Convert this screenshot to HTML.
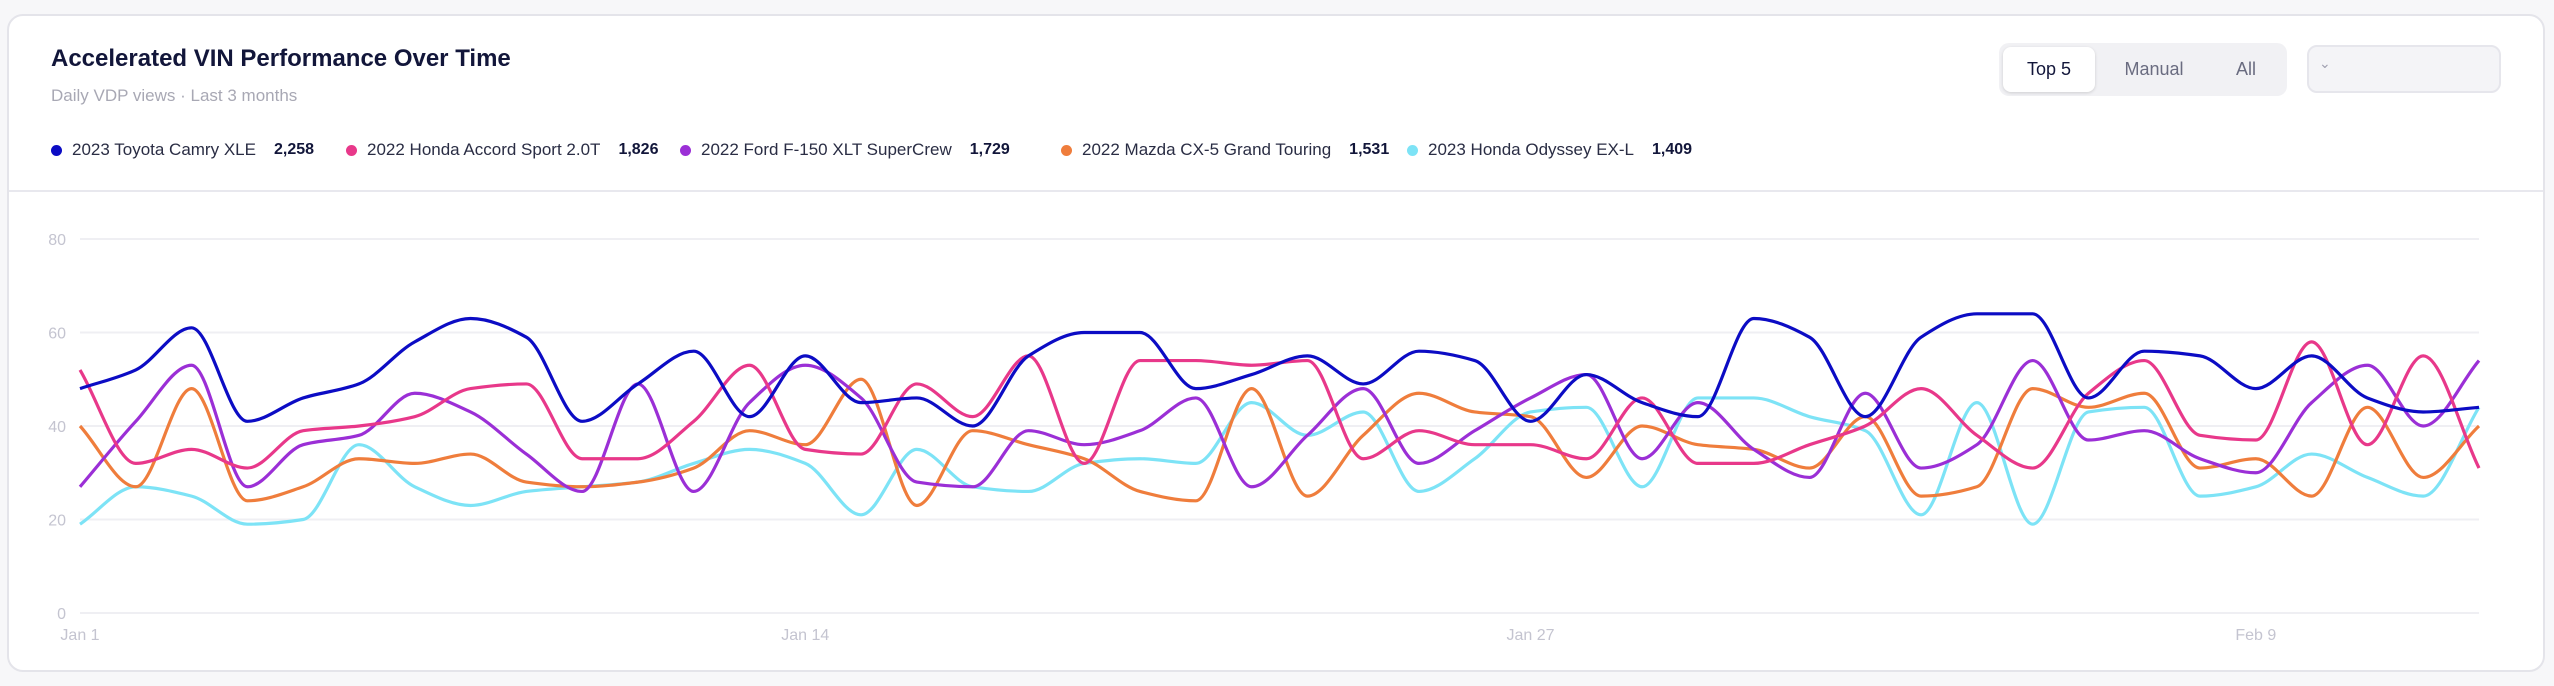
<!DOCTYPE html>
<html><head><meta charset="utf-8"><style>
*{box-sizing:border-box;margin:0;padding:0}
body{width:2554px;height:686px;background:#f7f7f9;font-family:"Liberation Sans",sans-serif;position:relative;overflow:hidden}
.card{position:absolute;left:7px;top:14px;width:2538px;height:658px;background:#fff;border:2px solid #e4e4ea;border-radius:16px}
.title{position:absolute;left:42px;top:29px;font-size:24px;font-weight:bold;color:#12163a}
.sub{position:absolute;left:42px;top:70px;font-size:17px;color:#a8a8b4}
.legend{position:absolute;left:0;top:124px;width:2000px;height:24px;font-size:17px;color:#2a2d44}
.li{position:absolute;top:0;display:flex;align-items:center;white-space:nowrap}
.dot{width:11px;height:11px;border-radius:50%;margin-right:10px}
.li b{margin-left:18px;color:#12163a;font-size:16px}
.sep{position:absolute;left:0;right:0;top:174px;height:2px;background:#e8e8ee}
.tog{position:absolute;left:1990px;top:27px;width:288px;height:53px;background:#f1f1f4;border-radius:10px}
.tb{position:absolute;top:4px;height:45px;line-height:45px;font-size:18px;color:#6a6c80;text-align:center}
.tb.act{background:#fff;border-radius:8px;color:#12163a;box-shadow:0 1px 3px rgba(0,0,0,.15)}
.dd{position:absolute;left:2298px;top:29px;width:194px;height:48px;background:#f4f4f7;border:2px solid #e6e6ec;border-radius:10px;color:#a0a0b0;font-size:14px;padding:8px 0 0 10px}
svg{position:absolute;left:0;top:0}
</style></head><body>
<div class="card">
<div class="title">Accelerated VIN Performance Over Time</div>
<div class="sub">Daily VDP views · Last 3 months</div>
<div class="legend">
<div class="li" style="left:42px"><span class="dot" style="background:#0c0cc4"></span>2023 Toyota Camry XLE<b>2,258</b></div>
<div class="li" style="left:337px"><span class="dot" style="background:#e8388a"></span>2022 Honda Accord Sport 2.0T<b>1,826</b></div>
<div class="li" style="left:671px"><span class="dot" style="background:#9b2fd6"></span>2022 Ford F-150 XLT SuperCrew<b>1,729</b></div>
<div class="li" style="left:1052px"><span class="dot" style="background:#ef7d3c"></span>2022 Mazda CX-5 Grand Touring<b>1,531</b></div>
<div class="li" style="left:1398px"><span class="dot" style="background:#7de3f6"></span>2023 Honda Odyssey EX-L<b>1,409</b></div>
</div>
<div class="sep"></div>
<div class="tog">
<div class="tb act" style="left:4px;width:92px">Top 5</div>
<div class="tb" style="left:100px;width:110px">Manual</div>
<div class="tb" style="left:212px;width:70px">All</div>
</div>
<div class="dd">&#8964;</div>
</div>
<svg id="chart" width="2554" height="686"></svg>
<script>
const categories=[];for(let i=0;i<44;i++){const d=new Date(2024,0,1+i);categories.push(d);}
const yTicks=[0,20,40,60,80];
const xTickIdx=[0,13,26,39];
const xTickLabels=["Jan 1","Jan 14","Jan 27","Feb 9"];
const camry=[48,52,61,41,46,49,58,63,59,41,49,56,42,55,45,46,40,55,60,60,48,51,55,49,56,54,41,51,45,42,63,59,42,59,64,64,46,56,55,48,55,46,43,44];
const accord=[52,32,35,31,39,40,42,48,49,33,33,41,53,35,34,49,42,55,32,54,54,53,54,33,39,36,36,33,46,32,32,36,40,48,38,31,47,54,38,37,58,36,55,31];
const f150=[27,41,53,27,36,38,47,43,34,26,49,26,45,53,46,28,27,39,36,39,46,27,38,48,32,39,46,51,33,45,35,29,47,31,36,54,37,39,33,30,45,53,40,54];
const cx5=[40,27,48,24,27,33,32,34,28,27,28,31,39,36,50,23,39,36,33,26,24,48,25,38,47,43,42,29,40,36,35,31,42,25,27,48,44,47,31,33,25,44,29,40];
const odyssey=[19,27,25,19,20,36,27,23,26,27,28,32,35,32,21,35,27,26,32,33,32,45,38,43,26,33,43,44,27,46,46,42,39,21,45,19,43,44,25,27,34,29,25,44];
const series=[["odyssey",odyssey,"#7de3f6"],["cx5",cx5,"#ef7d3c"],["f150",f150,"#9b2fd6"],["accord",accord,"#e8388a"],["camry",camry,"#0c0cc4"]];
const X0=80,X1=2479,Y0=613,Y80=239;
const xs=i=>X0+(X1-X0)*i/(categories.length-1);
const ys=v=>Y0+(Y80-Y0)*v/80;
const svg=document.getElementById('chart');const NS='http://www.w3.org/2000/svg';
function mk(t,a){const e=document.createElementNS(NS,t);for(const k in a)e.setAttribute(k,a[k]);svg.appendChild(e);return e;}
yTicks.forEach(v=>{
 const g=mk('line',{x1:X0,x2:X1,y1:ys(v),y2:ys(v),stroke:'#efeff3','stroke-width':2});
 
 
 const t=mk('text',{x:66,y:ys(v)+6,'text-anchor':'end','font-size':16,fill:'#c4c4d0','font-family':'Liberation Sans, sans-serif'});t.textContent=v;
 
 
});
xTickIdx.forEach((ix,k)=>{
 const t=mk('text',{x:xs(ix),y:640,'text-anchor':'middle','font-size':16,fill:'#c4c4d0','font-family':'Liberation Sans, sans-serif'});t.textContent=xTickLabels[k];
 
 
});
function monotone(px,py){
 const n=px.length,d=[],m=[];
 for(let i=0;i<n-1;i++)d.push((py[i+1]-py[i])/(px[i+1]-px[i]));
 m[0]=d[0];m[n-1]=d[n-2];
 for(let i=1;i<n-1;i++){const a=d[i-1],b=d[i];m[i]=(a*b<=0)?0:2/(1/a+1/b);}
 let s='M'+px[0]+','+py[0];
 for(let i=0;i<n-1;i++){const h=(px[i+1]-px[i])/3;
  s+=' C'+(px[i]+h)+','+(py[i]+m[i]*h)+' '+(px[i+1]-h)+','+(py[i+1]-m[i+1]*h)+' '+px[i+1]+','+py[i+1];}
 return s;
}
series.forEach(([name,vals,col])=>{
 const px=vals.map((v,i)=>xs(i)),py=vals.map(v=>ys(v));
 const p=mk('path',{d:monotone(px,py),fill:'none',stroke:col,'stroke-width':3.2,'stroke-linejoin':'round'});
 
 
});
</script>
</body></html>
